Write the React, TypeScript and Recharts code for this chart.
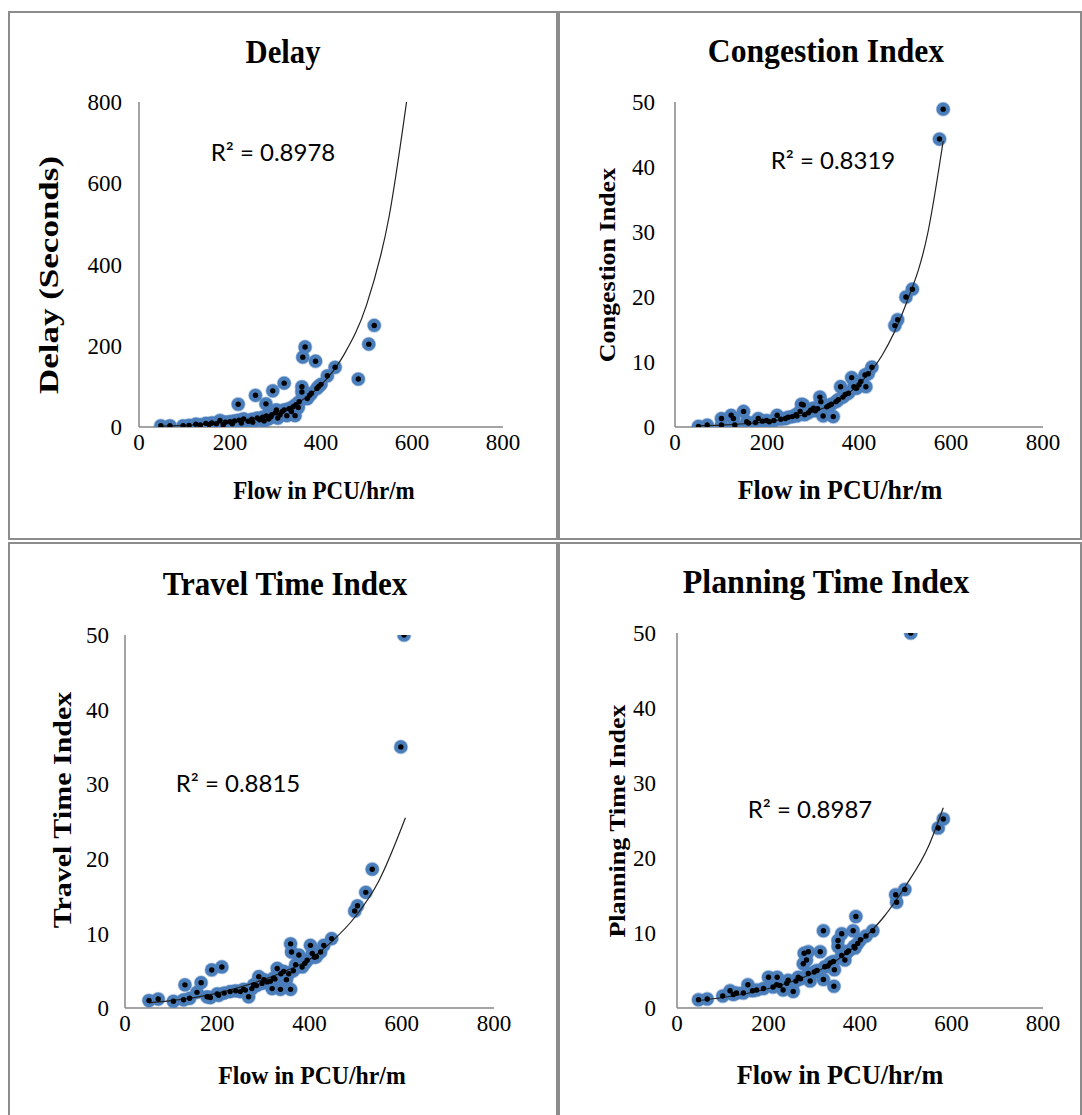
import React from "react";
import { ScatterChart, Scatter, XAxis, YAxis } from "recharts";

// ---- shared axis ticks ----
const flowTicks = [0, 200, 400, 600, 800];
const delayTicks = [0, 200, 400, 600, 800];
const indexTicks = [0, 10, 20, 30, 40, 50];

// ---- Delay ----
const delayFlow = [48, 68, 97, 110, 125, 135, 147, 154, 160, 170, 178, 185, 190, 200, 205, 210, 218, 220, 225, 230, 240, 248, 250, 256, 260, 265, 272, 275, 279, 280, 285, 290, 292, 294, 300, 302, 305, 310, 315, 319, 319, 325, 330, 335, 339, 343, 345, 350, 352, 358, 358, 360, 365, 370, 375, 379, 388, 391, 395, 400, 414, 431, 482, 505, 517];
const delaySeconds = [3, 3, 3, 4, 7, 5, 9, 6, 10, 8, 16, 5, 12, 13, 8, 15, 56, 17, 10, 20, 14, 19, 12, 78, 22, 18, 24, 15, 57, 27, 20, 25, 30, 89, 35, 42, 22, 30, 38, 108, 42, 28, 45, 38, 50, 28, 55, 48, 62, 99, 86, 172, 197, 70, 78, 83, 162, 95, 100, 105, 126, 147, 118, 204, 250];
const delayTrendFlow = [50, 100, 150, 200, 250, 300, 350, 400, 450, 500, 550, 588];
const delayTrendValue = [2, 4, 7, 12, 20, 35, 60, 103, 177, 300, 520, 800];

// ---- Congestion Index ----
const ciFlow = [51, 70, 101, 101, 122, 127, 130, 149, 156, 160, 175, 181, 190, 199, 205, 215, 222, 230, 240, 246, 255, 263, 265, 272, 275, 279, 282, 290, 295, 301, 305, 310, 315, 317, 322, 330, 335, 340, 344, 350, 355, 360, 365, 370, 377, 384, 389, 393, 395, 400, 404, 413, 415, 420, 428, 478, 484, 502, 516, 575, 583];
const ciValue = [0.1, 0.3, 1.3, 0.3, 1.8, 1.3, 0.3, 2.4, 0.8, 0.6, 0.7, 1.3, 0.9, 1.0, 0.8, 1.0, 1.8, 1.2, 1.3, 1.5, 1.6, 1.9, 1.7, 2.4, 3.5, 3.4, 1.9, 2.2, 2.6, 2.9, 2.5, 2.8, 4.6, 3.9, 1.7, 3.1, 3.3, 3.5, 1.6, 3.9, 4.2, 6.2, 4.6, 5.0, 5.2, 7.6, 6.2, 6.0, 6.0, 6.5, 7.0, 8.0, 6.2, 8.2, 9.2, 15.6, 16.5, 20.0, 21.2, 44.3, 48.9];
const ciTrendFlow = [51, 100, 150, 200, 250, 300, 350, 400, 450, 500, 550, 583];
const ciTrendValue = [0.2, 0.3, 0.5, 0.8, 1.4, 2.3, 3.9, 6.6, 11, 18.5, 30, 44];

// ---- Travel Time Index ----
const ttiFlow = [52, 72, 105, 127, 130, 140, 156, 165, 178, 185, 188, 200, 203, 210, 215, 228, 240, 250, 257, 261, 268, 275, 279, 285, 290, 297, 301, 308, 315, 319, 322, 325, 330, 337, 338, 344, 350, 355, 359, 359, 361, 365, 370, 377, 384, 390, 395, 402, 406, 411, 415, 424, 431, 448, 498, 504, 522, 536, 598, 605];
const ttiValue = [1.0, 1.2, 0.9, 1.1, 3.1, 1.3, 2.1, 3.4, 1.5, 1.4, 5.1, 1.9, 1.7, 5.5, 2.0, 2.2, 2.3, 2.2, 2.5, 2.4, 1.5, 2.6, 3.1, 3.0, 4.2, 3.3, 3.8, 3.5, 3.6, 2.6, 4.0, 3.9, 5.3, 2.5, 4.6, 4.9, 3.8, 4.6, 2.5, 8.6, 7.5, 5.0, 5.8, 7.1, 5.5, 6.0, 6.4, 8.4, 7.3, 6.8, 6.9, 7.5, 8.4, 9.3, 13.0, 13.7, 15.5, 18.6, 35, 50];
const ttiTrendFlow = [52, 100, 150, 200, 250, 300, 350, 400, 450, 500, 550, 608];
const ttiTrendValue = [0.7, 1.0, 1.4, 2.0, 2.8, 3.8, 5.0, 6.5, 9.0, 12.3, 17, 25.5];

// ---- Planning Time Index ----
const ptiFlow = [47, 66, 100, 116, 123, 130, 145, 155, 165, 174, 189, 200, 210, 218, 219, 225, 232, 240, 243, 254, 260, 265, 270, 276, 278, 283, 287, 287, 291, 300, 306, 313, 320, 320, 323, 330, 335, 342, 343, 344, 352, 352, 360, 360, 367, 371, 375, 385, 387, 389, 391, 395, 401, 413, 428, 478, 480, 498, 511, 571, 582];
const ptiValue = [1.1, 1.2, 1.6, 2.3, 1.8, 2.0, 2.0, 3.1, 2.3, 2.4, 2.6, 4.1, 2.8, 3.1, 4.1, 3.0, 2.4, 3.3, 3.7, 2.2, 3.6, 4.1, 3.9, 5.9, 7.3, 6.4, 7.5, 4.6, 3.6, 4.8, 5.0, 7.5, 10.3, 3.8, 5.5, 5.6, 6.0, 6.2, 2.9, 5.1, 9.0, 8.2, 9.9, 7.0, 6.4, 7.4, 7.6, 10.3, 8.2, 8.0, 12.2, 8.6, 9.1, 9.6, 10.3, 15.1, 14.1, 15.8, 50, 24, 25.2];
const ptiTrendFlow = [47, 100, 150, 200, 250, 300, 350, 400, 450, 500, 550, 582];
const ptiTrendValue = [1.0, 1.4, 1.9, 2.6, 3.5, 4.7, 6.4, 8.8, 12, 16.3, 21.6, 26.7];

const toPoints = (xs: number[], ys: number[]) => xs.map((x, i) => ({ x, y: ys[i] }));

const SERIF = "'Liberation Serif', 'Times New Roman', serif";
const BLUE = "#4a7ebb";

const BlueDot = (p: any) => (
  <circle cx={p.cx} cy={p.cy} r={6.6} fill={BLUE} stroke={BLUE} strokeOpacity={0.4} strokeWidth={1.6} />
);
const BlackDot = (p: any) => <circle cx={p.cx} cy={p.cy} r={2.7} fill="#000" />;
const NoDot = () => <g />;

type Box = { left: number; top: number; w: number; h: number };
type Plot = { x0: number; x1: number; y0: number; y1: number };

// plain positioned text; sx squeezes it a little, like the narrow serif in the source
function Txt({ x, y, size, bold, rotate, family, sx = 1, children }: any) {
  const t = rotate ? ` scale(${sx}, 1) rotate(-90deg)` : ` scale(${sx}, 1)`;
  return (
    <div
      style={{
        position: "absolute",
        left: x,
        top: y,
        transform: `translate(-50%, -50%)${t}`,
        fontFamily: family || SERIF,
        fontSize: size,
        fontWeight: bold ? 700 : 400,
        lineHeight: 1,
        whiteSpace: "nowrap",
        color: "#000",
      }}
    >
      {children}
    </div>
  );
}

function Panel({
  box,
  plot,
  xs,
  ys,
  tx,
  ty,
  yMax,
  yTicks,
  tickGap,
}: {
  box: Box;
  plot: Plot;
  xs: number[];
  ys: number[];
  tx: number[];
  ty: number[];
  yMax: number;
  yTicks: number[];
  tickGap: number;
}) {
  const yw = 60;
  const xh = 40;
  const margin = {
    top: plot.y0 - box.top,
    left: plot.x0 - box.left - yw,
    right: box.left + box.w - plot.x1,
    bottom: box.top + box.h - plot.y1 - xh,
  };
  const pts = toPoints(xs, ys);
  const trend = toPoints(tx, ty);
  const tick = { fill: "#000", fontSize: 23, fontFamily: SERIF };
  return (
    <>
      <div
        style={{
          position: "absolute",
          left: box.left,
          top: box.top,
          width: box.w,
          height: box.h,
          boxSizing: "border-box",
          border: "2px solid #8c8c8c",
        }}
      />
      <div style={{ position: "absolute", left: box.left, top: box.top }}>
        <ScatterChart width={box.w} height={box.h} margin={margin}>
          <XAxis
            type="number"
            dataKey="x"
            domain={[0, 800]}
            ticks={flowTicks}
            allowDataOverflow
            height={xh}
            tickLine={false}
            tickSize={0}
            tickMargin={7}
            axisLine={{ stroke: "#868686", strokeWidth: 1.5 }}
            tick={tick}
          />
          <YAxis
            type="number"
            dataKey="y"
            domain={[0, yMax]}
            ticks={yTicks}
            allowDataOverflow
            width={yw}
            tickLine={false}
            tickSize={0}
            tickMargin={tickGap}
            axisLine={{ stroke: "#868686", strokeWidth: 1.5 }}
            tick={tick}
          />
          <Scatter data={pts} shape={BlueDot} isAnimationActive={false} />
          <Scatter
            data={trend}
            shape={NoDot}
            line={{ stroke: "#222", strokeWidth: 1.2 }}
            lineJointType="monotoneX"
            isAnimationActive={false}
          />
          <Scatter data={pts} shape={BlackDot} isAnimationActive={false} />
        </ScatterChart>
      </div>
    </>
  );
}

export default function App() {
  return (
    <div
      style={{
        position: "absolute",
        left: 0,
        top: 0,
        width: 1082,
        height: 1115,
        overflow: "hidden",
        background: "#fff",
      }}
    >
      <Panel
        box={{ left: 8, top: 11, w: 550, h: 529 }}
        plot={{ x0: 139, x1: 503, y0: 102, y1: 427 }}
        xs={delayFlow}
        ys={delaySeconds}
        tx={delayTrendFlow}
        ty={delayTrendValue}
        yMax={800}
        yTicks={delayTicks}
        tickGap={17}
      />
      <Panel
        box={{ left: 558, top: 11, w: 524, h: 529 }}
        plot={{ x0: 675, x1: 1043, y0: 102, y1: 427 }}
        xs={ciFlow}
        ys={ciValue}
        tx={ciTrendFlow}
        ty={ciTrendValue}
        yMax={50}
        yTicks={indexTicks}
        tickGap={20}
      />
      <Panel
        box={{ left: 8, top: 542, w: 550, h: 600 }}
        plot={{ x0: 125, x1: 494, y0: 635, y1: 1008 }}
        xs={ttiFlow}
        ys={ttiValue}
        tx={ttiTrendFlow}
        ty={ttiTrendValue}
        yMax={50}
        yTicks={indexTicks}
        tickGap={16}
      />
      <Panel
        box={{ left: 558, top: 542, w: 524, h: 600 }}
        plot={{ x0: 677, x1: 1043, y0: 633, y1: 1008 }}
        xs={ptiFlow}
        ys={ptiValue}
        tx={ptiTrendFlow}
        ty={ptiTrendValue}
        yMax={50}
        yTicks={indexTicks}
        tickGap={21}
      />

      {/* titles */}
      <Txt x={283} y={52} size={33} sx={0.93} bold>Delay</Txt>
      <Txt x={826} y={51} size={34} sx={0.93} bold>Congestion Index</Txt>
      <Txt x={285} y={584} size={33} sx={0.94} bold>Travel Time Index</Txt>
      <Txt x={826} y={582} size={34} sx={0.94} bold>Planning Time Index</Txt>

      {/* axis titles */}
      <Txt x={324} y={490} size={25} sx={0.92} bold>Flow in PCU/hr/m</Txt>
      <Txt x={840} y={490} size={27} sx={0.96} bold>Flow in PCU/hr/m</Txt>
      <Txt x={312} y={1075} size={25} sx={0.95} bold>Flow in PCU/hr/m</Txt>
      <Txt x={840} y={1075} size={27} sx={0.97} bold>Flow in PCU/hr/m</Txt>
      <Txt x={49} y={275} size={35} sx={0.8} bold rotate>Delay (Seconds)</Txt>
      <Txt x={608} y={265} size={26} sx={0.9} bold rotate>Congestion Index</Txt>
      <Txt x={62} y={810} size={30} sx={0.85} bold rotate>Travel Time Index</Txt>
      <Txt x={618} y={821} size={26} sx={0.9} bold rotate>Planning Time Index</Txt>

      {/* R² labels */}
      <Txt x={273} y={152} size={24} family="Lato">R² = 0.8978</Txt>
      <Txt x={833} y={160} size={24} family="Lato">R² = 0.8319</Txt>
      <Txt x={238} y={783} size={24} family="Lato">R² = 0.8815</Txt>
      <Txt x={810} y={809} size={24} family="Lato">R² = 0.8987</Txt>
    </div>
  );
}
